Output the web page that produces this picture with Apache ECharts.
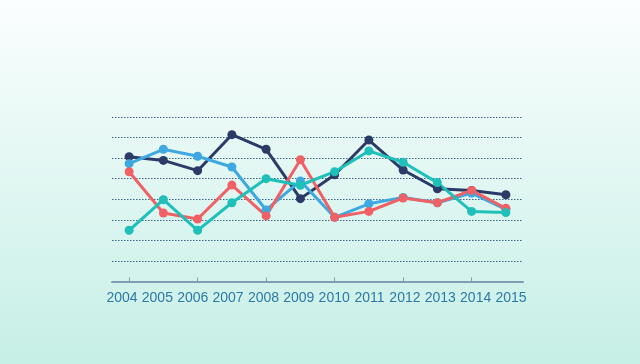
<!DOCTYPE html>
<html>
<head>
<meta charset="utf-8">
<script src="https://cdn.jsdelivr.net/npm/echarts@6/dist/echarts.min.js"></script>
<style>
html,body{margin:0;padding:0;width:640px;height:364px;overflow:hidden;}
#chart{width:640px;height:364px;}
</style>
</head>
<body>
<div id="chart"></div>
<script>
const years = ['2004','2005','2006','2007','2008','2009','2010','2011','2012','2013','2014','2015'];
const navySeries = [6.07, 5.89, 5.39, 7.14, 6.43, 4.03, 5.19, 6.88, 5.42, 4.51, 4.42, 4.22];
const blueSeries = [5.73, 6.43, 6.09, 5.57, 3.48, 4.89, 3.12, 3.78, 4.09, 3.83, 4.30, 3.51];
const redSeries  = [5.34, 3.33, 3.04, 4.69, 3.19, 5.92, 3.12, 3.41, 4.06, 3.83, 4.43, 3.56];
const tealSeries = [2.49, 3.98, 2.49, 3.83, 5.00, 4.68, 5.34, 6.35, 5.80, 4.81, 3.41, 3.35];

const colors = {navy:'#2b3a67', blue:'#3ea8e0', red:'#ef6164', teal:'#1fbfba'};

function mk(name, data, color){
  return {
    name, type:'line', data, xAxisIndex:0, yAxisIndex:0,
    symbol:'circle', symbolSize:9, showSymbol:true,
    lineStyle:{width:3, color}, itemStyle:{color},
    animation:false
  };
}

const chart = echarts.init(document.getElementById('chart'), null, {renderer:'canvas'});
chart.setOption({
  animation:false,
  backgroundColor:{type:'linear',x:0,y:0,x2:0,y2:1,colorStops:[{offset:0,color:'#fbfefe'},{offset:1,color:'#c6efe6'}]},
  grid:[
    {left:112, right:117, top:117, bottom:82.5},
    {left:104.3, right:111.3, top:117, bottom:82.5}
  ],
  xAxis:[
    {type:'category', data:years, gridIndex:0, boundaryGap:true,
     axisLine:{show:true, lineStyle:{color:'#7f9db3', width:2}},
     axisTick:{show:true, alignWithLabel:true, inside:true, length:4, lineStyle:{color:'#7f9db3', width:1}},
     axisLabel:{show:false}, splitLine:{show:false}},
    {type:'category', data:years, gridIndex:1, boundaryGap:true,
     axisLine:{show:false}, axisTick:{show:false},
     axisLabel:{show:true, interval:0, margin:10, color:'#2c79a6', fontSize:14, fontFamily:'Liberation Sans, Arial, sans-serif'},
     splitLine:{show:false}}
  ],
  yAxis:[
    {type:'value', gridIndex:0, min:0, max:8, interval:1,
     axisLine:{show:false}, axisTick:{show:false}, axisLabel:{show:false},
     splitLine:{show:true, lineStyle:{color:'#3d6586', type:[1.5,1.5], width:1}}},
    {type:'value', gridIndex:1, min:0, max:8, show:false}
  ],
  series:[
    mk('A', navySeries, colors.navy),
    mk('B', blueSeries, colors.blue),
    mk('C', redSeries, colors.red),
    mk('D', tealSeries, colors.teal)
  ]
});
</script>
</body>
</html>
